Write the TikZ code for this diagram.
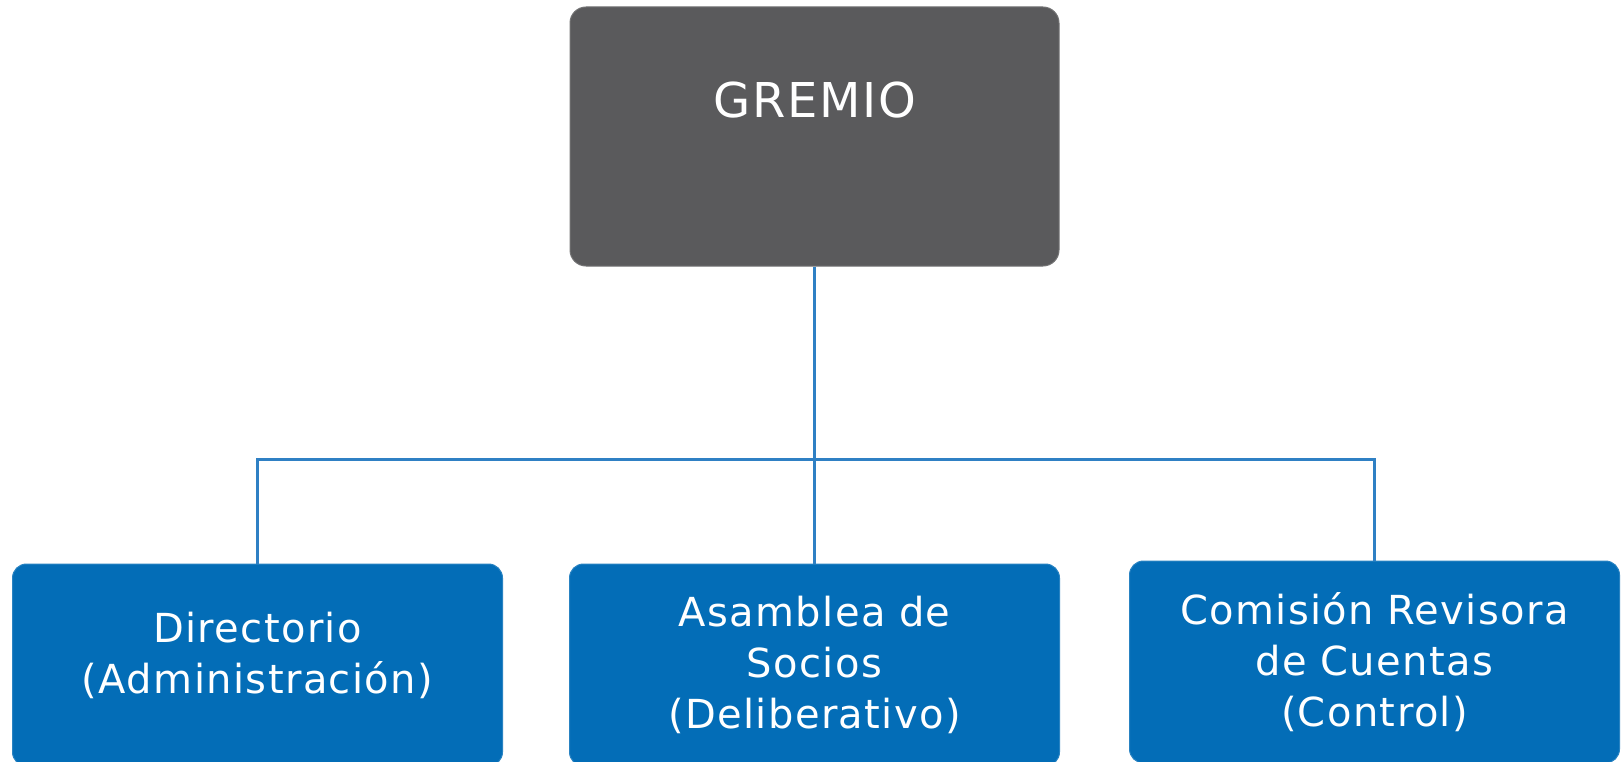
\documentclass[tikz,border=0pt]{standalone}
\usepackage{fontspec}
\setmainfont{DejaVu Sans}[LetterSpace=3.5]
\usepackage{tikz}
\usetikzlibrary{positioning}
\definecolor{gremiogray}{HTML}{5A5A5C}
\definecolor{organblue}{HTML}{036DB7}
\definecolor{linkblue}{HTML}{2F80C4}
\tikzset{
    topbox/.style={fill=gremiogray, draw=gremiogray!85!white, line width=1pt, rounded corners=16pt,
        minimum width=489pt, minimum height=259pt},
    organ/.style={fill=organblue, draw=organblue!85!white, line width=1pt, rounded corners=14pt,
        minimum width=490pt, minimum height=202pt, text width=470pt, align=center, text=white,
        font=\fontsize{40}{51}\selectfont},
    link/.style={draw=linkblue, line width=2.5pt}
}

\begin{document}
\begin{tikzpicture}[x=1pt, y=-1pt, node distance=297pt]
        \useasboundingbox (0,0) rectangle (1624,762);

        \node [topbox] (Gremio) at (814.5,136.5) {};
        \node [anchor=base, text=white, font=\fontsize{48}{58}\selectfont] (GremioText) at (814.5,118) {GREMIO};

        \node [organ, below=of Gremio] (Asamblea) {Asamblea de\\Socios\\(Deliberativo)};
        \node [organ, left=66pt of Asamblea] (Directorio) {Directorio\\(Administración)\par\vspace{20pt}};
        \node [organ, right=69pt of Asamblea, yshift=3pt] (Comision) {Comisión Revisora\\de Cuentas\\(Control)};

        \coordinate [below=193pt of Gremio.south] (BusPoint);
        \draw [link] (Gremio.south)--(Asamblea.north);
        \draw [link] (Directorio.north) |- (BusPoint) -| (Comision.north);
    \end{tikzpicture}
\end{document}
